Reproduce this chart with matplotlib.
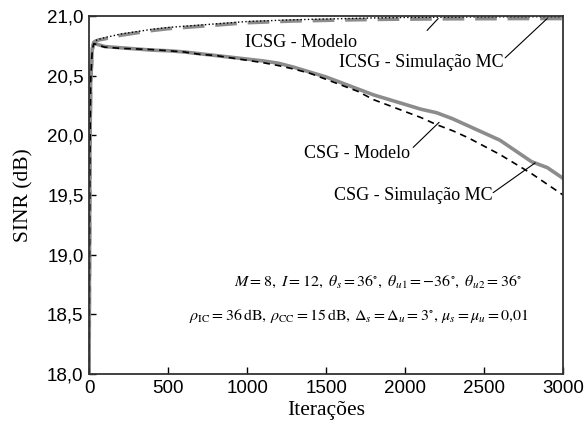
import numpy as np
import matplotlib
matplotlib.use("Agg")
import matplotlib.pyplot as plt
from matplotlib.ticker import FuncFormatter

plt.rcParams['mathtext.fontset'] = 'stix'

# dados
iteracoes = [0, 5, 10, 20, 30, 40, 60, 100, 200, 300, 400, 500, 600, 700, 800, 900,
             1000, 1100, 1200, 1300, 1400, 1500, 1600, 1700, 1800, 1900, 2000,
             2100, 2200, 2300, 2400, 2500, 2600, 2700, 2800, 2900, 3000]

csg_sim = [18.0, 19.8, 20.45, 20.72, 20.78, 20.77, 20.76, 20.745, 20.735, 20.725, 20.715,
           20.71, 20.70, 20.685, 20.67, 20.655, 20.64, 20.625, 20.605, 20.57, 20.53,
           20.49, 20.44, 20.39, 20.34, 20.30, 20.26, 20.22, 20.19, 20.14, 20.08,
           20.02, 19.96, 19.87, 19.78, 19.73, 19.64]

csg_modelo = [18.0, 19.8, 20.45, 20.72, 20.77, 20.765, 20.755, 20.74, 20.73, 20.725, 20.72,
              20.71, 20.70, 20.68, 20.67, 20.65, 20.63, 20.61, 20.585, 20.555, 20.52,
              20.47, 20.42, 20.37, 20.30, 20.25, 20.20, 20.15, 20.09, 20.04, 19.98,
              19.91, 19.84, 19.76, 19.68, 19.59, 19.50]

icsg_sim = [18.0, 19.8, 20.45, 20.72, 20.78, 20.79, 20.80, 20.81, 20.84, 20.86, 20.88,
            20.895, 20.905, 20.915, 20.925, 20.935, 20.945, 20.95, 20.955, 20.96, 20.962,
            20.965, 20.968, 20.97, 20.972, 20.974, 20.975, 20.976, 20.977, 20.978, 20.978,
            20.979, 20.979, 20.98, 20.98, 20.98, 20.98]

icsg_modelo = [18.0, 19.8, 20.45, 20.72, 20.785, 20.795, 20.805, 20.82, 20.85, 20.87, 20.89,
               20.905, 20.915, 20.925, 20.935, 20.945, 20.955, 20.96, 20.965, 20.97, 20.973,
               20.976, 20.979, 20.982, 20.985, 20.987, 20.989, 20.99, 20.991, 20.992, 20.993,
               20.994, 20.994, 20.995, 20.995, 20.995, 20.995]

fig = plt.figure(figsize=(5.86, 4.25), dpi=100)
ax = fig.add_axes([0.152, 0.12, 0.809, 0.842])

cinza = '#8c8c8c'
ax.plot(iteracoes, icsg_sim, color=cinza, lw=2.6, dashes=(6, 3))
ax.plot(iteracoes, icsg_modelo, color='black', lw=1.0, ls=':')
ax.plot(iteracoes, csg_sim, color=cinza, lw=2.6)
ax.plot(iteracoes, csg_modelo, color='black', lw=1.2, dashes=(4, 3))

ax.set_xlim(0, 3000)
ax.set_ylim(18, 21)
ax.set_xticks([0, 500, 1000, 1500, 2000, 2500, 3000])
ax.set_yticks([18.0, 18.5, 19.0, 19.5, 20.0, 20.5, 21.0])
ax.yaxis.set_major_formatter(FuncFormatter(lambda v, p: ('%.1f' % v).replace('.', ',')))
ax.tick_params(direction='in', length=5, width=1, labelsize=13.5, pad=4)
for lab in ax.get_xticklabels() + ax.get_yticklabels():
    lab.set_fontfamily('Liberation Sans')
for s in ax.spines.values():
    s.set_linewidth(1.3)
    s.set_color('#333333')

ax.set_xlabel('Iterações', family='Liberation Serif', fontsize=15.5, labelpad=3)
ax.set_ylabel('SINR (dB)', family='Liberation Serif', fontsize=15.5, labelpad=10)

# anotacoes: texto + linha
fs = 13
arr = dict(arrowstyle='-', lw=0.8, color='black', shrinkA=0, shrinkB=0)
rotulos = [('ICSG - Modelo', (1342, 20.78), (2139, 20.88), (2209, 20.98)),
           ('ICSG - Simulação MC', (2101, 20.61), (2633, 20.65), (2899, 20.98)),
           ('CSG - Modelo', (1696, 19.85), (2051, 19.90), (2215, 20.11)),
           ('CSG - Simulação MC', (2051, 19.50), (2557, 19.52), (2823, 19.77))]
for txt, pos, ini, fim in rotulos:
    ax.text(pos[0], pos[1], txt, family='Liberation Serif', fontsize=fs, ha='center', va='center')
    ax.annotate('', xy=fim, xytext=ini, arrowprops=arr)

ax.text(1829, 18.77, r'$M=8,\ I=12,\ \theta_s=36^{\circ},\ \theta_{u1}=-36^{\circ},\ \theta_{u2}=36^{\circ}$',
        fontsize=11.5, ha='center', va='center')
ax.text(1709, 18.49, r'$\rho_{\mathrm{IC}}=36\,\mathrm{dB},\,\rho_{\mathrm{CC}}=15\,\mathrm{dB},\,\Delta_s=\Delta_u=3^{\circ},\,\mu_s=\mu_u=0{,}01$',
        fontsize=11.5, ha='center', va='center')

fig.savefig('out.png', dpi=100)
